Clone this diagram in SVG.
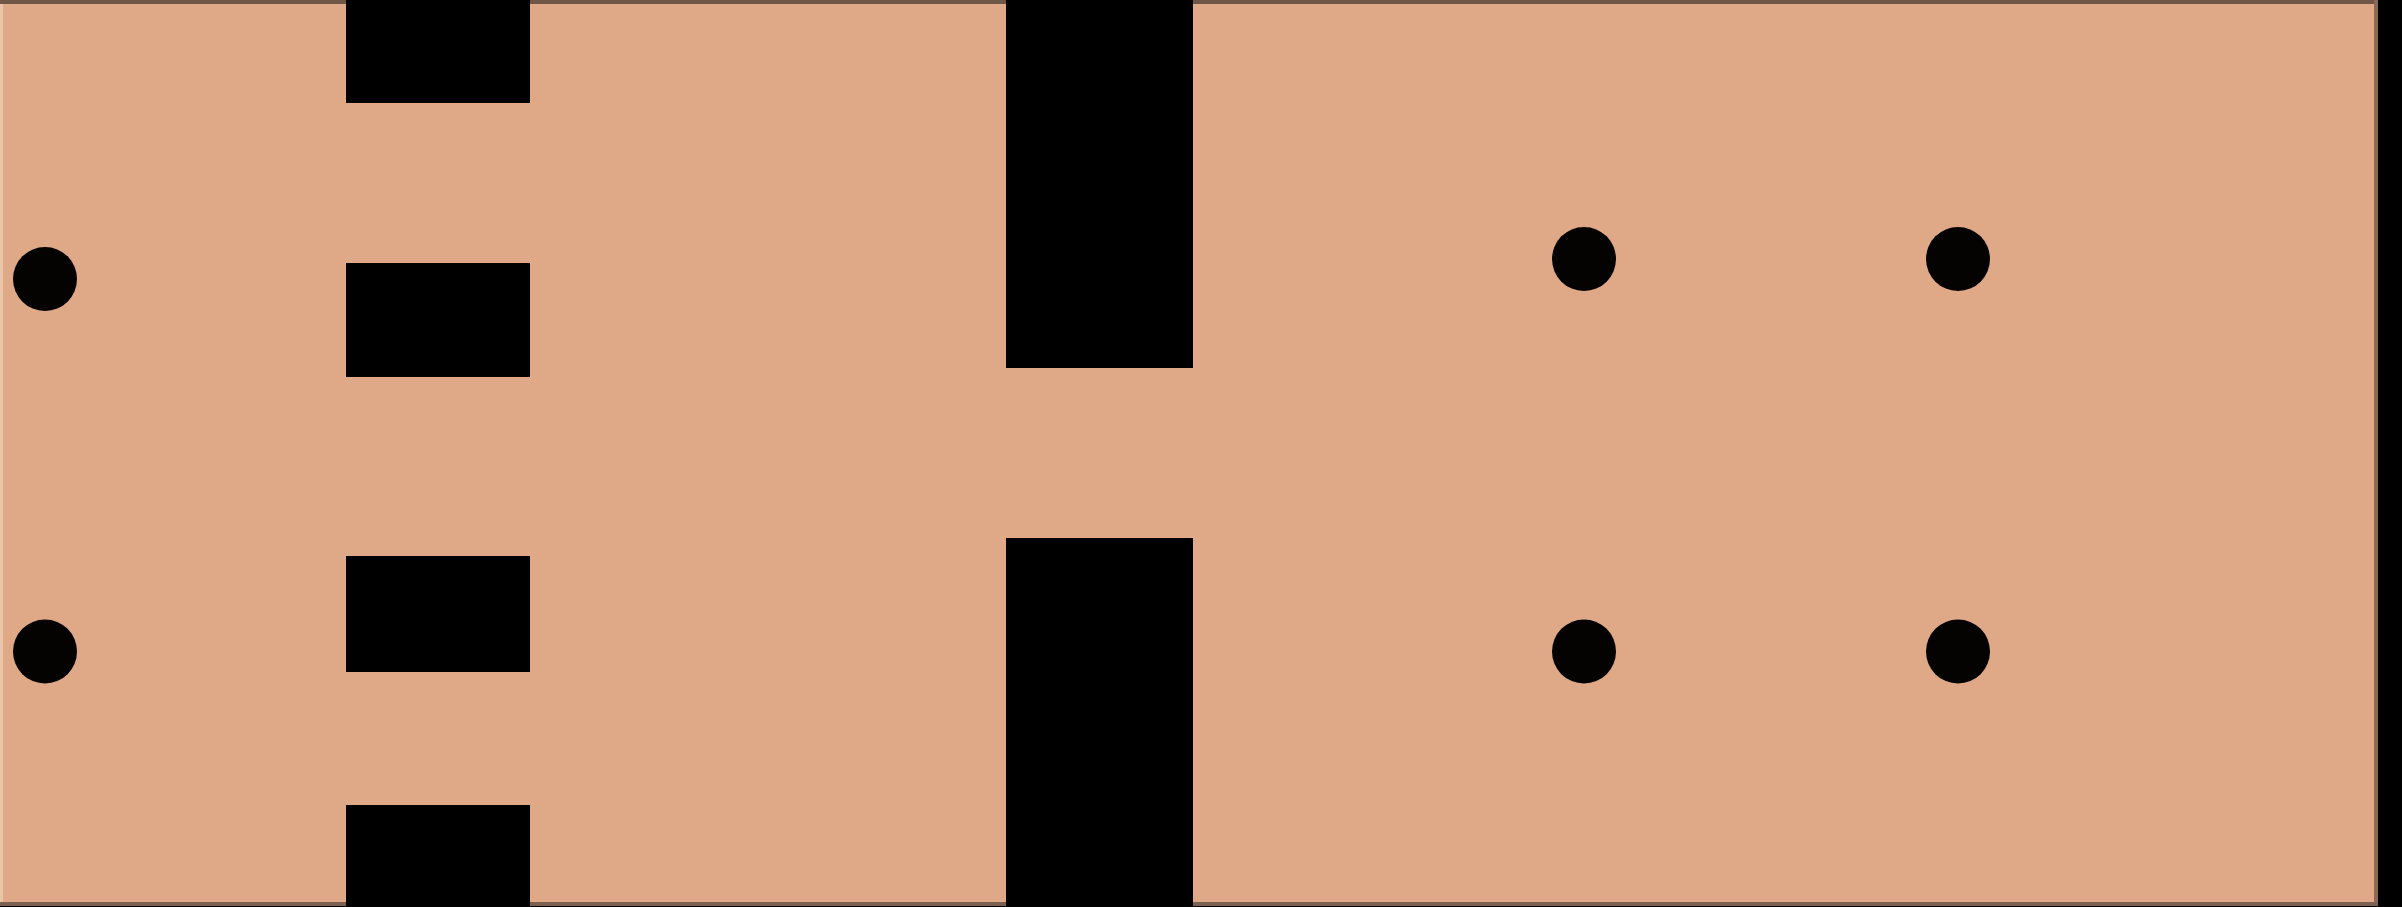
<svg xmlns="http://www.w3.org/2000/svg" width="2402" height="907" viewBox="0 0 2402 907">
  <style>
    .board { fill: #dfa988; }
    .blk { fill: #000000; }
    .hole { fill: #050302; }
  </style>
  <rect x="0" y="0" width="2402" height="907" fill="#000000"/>
  <g id="board">
    <rect class="board" x="0" y="0" width="2378" height="906"/>
    <rect x="0" y="0" width="2378" height="4" fill="#705646"/>
    <rect x="0" y="4" width="3" height="898" fill="#e9c4a8"/>
    <rect x="2374" y="0" width="4" height="906" fill="#8a6a57"/>
    <rect x="0" y="902" width="2378" height="4" fill="#7c6051"/>
  </g>
  <g id="pads-left">
    <rect id="pad1" class="blk" x="346" y="0" width="184" height="103"/>
    <rect id="pad2" class="blk" x="346" y="263" width="184" height="114"/>
    <rect id="pad3" class="blk" x="346" y="556" width="184" height="116"/>
    <rect id="pad4" class="blk" x="346" y="805" width="184" height="102"/>
  </g>
  <g id="slot">
    <rect id="slot-top" class="blk" x="1006" y="0" width="187" height="368"/>
    <rect id="slot-bottom" class="blk" x="1006" y="538" width="187" height="369"/>
  </g>
  <g id="holes">
    <circle id="hole1" class="hole" cx="45" cy="279" r="32"/>
    <circle id="hole2" class="hole" cx="45" cy="651.5" r="32"/>
    <circle id="hole3" class="hole" cx="1584" cy="259" r="32"/>
    <circle id="hole4" class="hole" cx="1958" cy="259" r="32"/>
    <circle id="hole5" class="hole" cx="1584" cy="651.5" r="32"/>
    <circle id="hole6" class="hole" cx="1958" cy="651.5" r="32"/>
  </g>
</svg>
